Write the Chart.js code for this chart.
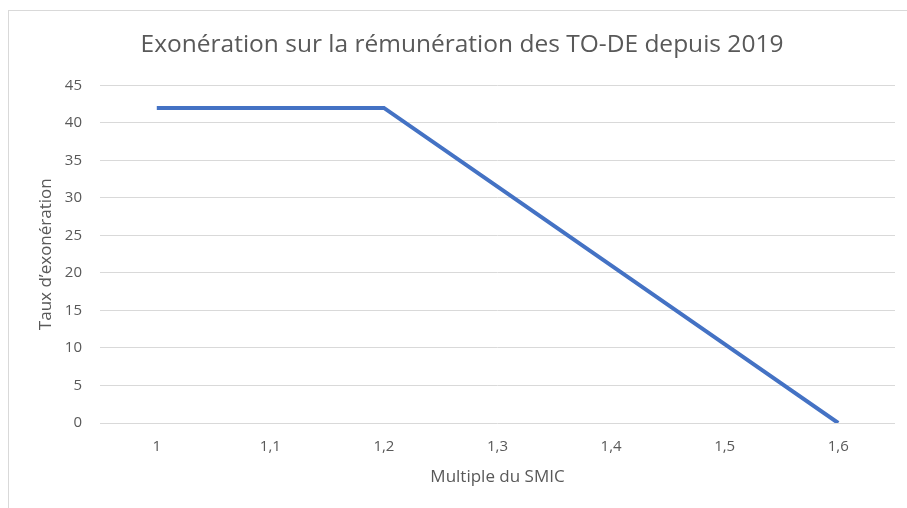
<!DOCTYPE html>
<html>
<head>
<meta charset="utf-8">
<script src="https://cdn.jsdelivr.net/npm/chart.js@4/dist/chart.umd.min.js"></script>
<style>
  html, body { margin: 0; padding: 0; background: #ffffff; }
  #wrap { position: relative; width: 907px; height: 508px; overflow: hidden; }
  #frame { position: absolute; left: 8px; top: 10px; width: 1000px; height: 600px;
           border-left: 1px solid #d9d9d9; border-top: 1px solid #d9d9d9; }
  #c { position: absolute; left: 0; top: 0; }
</style>
</head>
<body>
<div id="wrap">
  <div id="frame"></div>
  <canvas id="c" width="907" height="508"></canvas>
</div>
<script>
const categories = ['1', '1,1', '1,2', '1,3', '1,4', '1,5', '1,6'];
const tauxValues = [42, 42, 42, 31.5, 21, 10.5, 0];
const yTicks = [0, 5, 10, 15, 20, 25, 30, 35, 40, 45];
const chartTitle = 'Exonération sur la rémunération des TO-DE depuis 2019';
const xTitle = 'Multiple du SMIC';
const yTitle = 'Taux d\u2019exonération';

const FONT = "'Open Sans', sans-serif";
const GREY = '#595959';

new Chart(document.getElementById('c'), {
  type: 'line',
  data: {
    labels: categories,
    datasets: [{
      data: tauxValues,
      borderColor: '#4472C4',
      borderWidth: 4,
      pointRadius: 0,
      tension: 0,
      fill: false
    }]
  },
  options: {
    responsive: false,
    animation: false,
    devicePixelRatio: 1,
    layout: { padding: { left: 29, right: 12, top: 10, bottom: 18 } },
    plugins: {
      legend: { display: false },
      tooltip: { enabled: false },
      title: {
        display: true,
        text: chartTitle,
        color: GREY,
        font: { family: FONT, size: 24.5, weight: 'normal' },
        padding: { top: 20, bottom: 26 }
      }
    },
    scales: {
      x: {
        offset: true,
        grid: { display: false, drawTicks: false },
        border: { display: false },
        ticks: { color: GREY, font: { family: FONT, size: 15 }, padding: 15, maxRotation: 0 },
        title: { display: true, text: xTitle, color: GREY, font: { family: FONT, size: 17 }, padding: { top: 2, bottom: 3 } },
        afterFit: (s) => { s.height = 67; }
      },
      y: {
        min: 0,
        max: 45,
        afterBuildTicks: (s) => { s.ticks = yTicks.map(v => ({ value: v })); },
        grid: { color: '#d9d9d9', lineWidth: 1, drawTicks: false },
        border: { display: false },
        ticks: { color: GREY, font: { family: FONT, size: 15 }, padding: 18 },
        title: { display: true, text: yTitle, color: GREY, font: { family: FONT, size: 17 }, padding: { top: 7, bottom: 2 } },
        afterFit: (s) => { s.width = 71; }
      }
    }
  }
});
</script>
</body>
</html>
